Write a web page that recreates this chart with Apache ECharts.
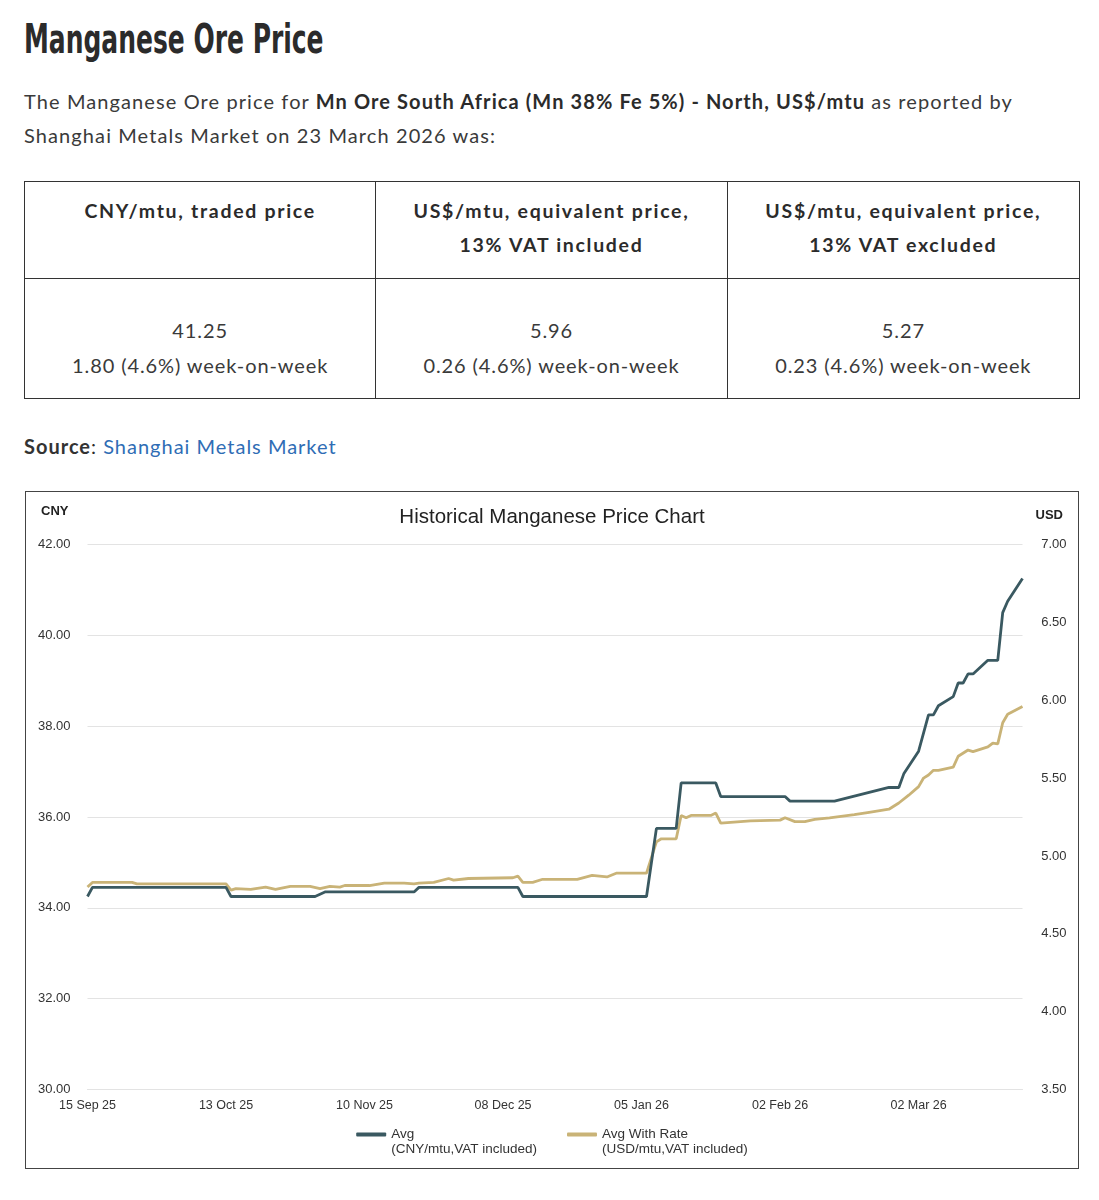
<!DOCTYPE html>
<html>
<head>
<meta charset="utf-8">
<script src="https://cdn.jsdelivr.net/npm/echarts@6/dist/echarts.min.js"></script>
<style>
  html,body{margin:0;padding:0;background:#fff;}
  body{font-family:Lato,'Open Sans',sans-serif;color:#3a3a3a;width:1099px;height:1200px;position:relative;overflow:hidden;}
  #title{position:absolute;left:24px;top:19px;font-family:'Liberation Sans Narrow','DejaVu Sans Condensed',sans-serif;font-weight:bold;font-size:40px;line-height:40px;color:#2b2b2b;transform:scaleX(0.694);transform-origin:left top;white-space:nowrap;}
  #intro{position:absolute;left:24px;top:84px;width:1075px;font-size:20px;line-height:34px;color:#3a3a3a;letter-spacing:1.1px;white-space:nowrap;}
  #intro b{color:#2b2b2b;}
  .tbl{position:absolute;left:24px;top:181px;width:1056px;height:218px;border:1.5px solid #333;box-sizing:border-box;display:grid;grid-template-columns:1fr 1fr 1fr;grid-template-rows:97px 1fr;}
  .tbl div{text-align:center;border-right:1.5px solid #333;box-sizing:border-box;}
  .tbl div.last{border-right:none;}
  .tbl .h{border-bottom:1.5px solid #333;font-weight:bold;font-size:19.5px;line-height:34px;padding-top:12px;color:#2b2b2b;letter-spacing:1.7px;}
  .tbl .b{font-size:20px;line-height:35px;padding-top:34px;color:#3a3a3a;letter-spacing:0.9px;}
  #source{position:absolute;left:24px;top:431px;font-size:20px;line-height:30px;color:#2b2b2b;letter-spacing:1px;}
  #source b{color:#333;}
  #source a{color:#2f6db5;text-decoration:none;}
  #box{position:absolute;left:25px;top:491px;width:1054px;height:678px;border:1.5px solid #444;box-sizing:border-box;}
  #chart{width:100%;height:100%;}
</style>
</head>
<body>
<div id="title">Manganese Ore Price</div>
<div id="intro">The Manganese Ore price for <b>Mn Ore South Africa (Mn 38% Fe 5%) - North, US$/mtu</b> as reported by<br>Shanghai Metals Market on 23 March 2026 was:</div>
<div class="tbl">
  <div class="h">CNY/mtu, traded price</div>
  <div class="h">US$/mtu, equivalent price,<br>13% VAT included</div>
  <div class="h last">US$/mtu, equivalent price,<br>13% VAT excluded</div>
  <div class="b">41.25<br>1.80 (4.6%) week-on-week</div>
  <div class="b">5.96<br>0.26 (4.6%) week-on-week</div>
  <div class="b last">5.27<br>0.23 (4.6%) week-on-week</div>
</div>
<div id="source"><b>Source</b>: <a href="#">Shanghai Metals Market</a></div>
<div id="box"><div id="chart"></div></div>
<script>
// ---- data ----
var startDate = '2025-09-15';
var dayCount = 190; // 15 Sep 25 .. 23 Mar 26, daily categories
var monthNames = ['Jan','Feb','Mar','Apr','May','Jun','Jul','Aug','Sep','Oct','Nov','Dec'];

var avgDates = ['15 Sep 25','16 Sep 25','13 Oct 25','14 Oct 25','31 Oct 25','02 Nov 25','20 Nov 25','21 Nov 25',
  '11 Dec 25','12 Dec 25','06 Jan 26','08 Jan 26','12 Jan 26','13 Jan 26','20 Jan 26','21 Jan 26',
  '03 Feb 26','04 Feb 26','13 Feb 26','24 Feb 26','26 Feb 26','27 Feb 26','02 Mar 26','04 Mar 26',
  '05 Mar 26','06 Mar 26','09 Mar 26','10 Mar 26','11 Mar 26','12 Mar 26','13 Mar 26','16 Mar 26',
  '18 Mar 26','19 Mar 26','20 Mar 26','23 Mar 26'];
var avgValues = [34.25,34.45,34.45,34.25,34.25,34.35,34.35,34.45,
  34.45,34.25,34.25,35.75,35.75,36.75,36.75,36.45,
  36.45,36.35,36.35,36.65,36.65,36.95,37.45,38.25,
  38.25,38.45,38.65,38.95,38.95,39.15,39.15,39.45,
  39.45,40.50,40.75,41.25];

var rateDates = ['15 Sep 25','16 Sep 25','24 Sep 25','25 Sep 25','13 Oct 25','14 Oct 25','15 Oct 25','18 Oct 25',
  '21 Oct 25','23 Oct 25','26 Oct 25','30 Oct 25','01 Nov 25','03 Nov 25','05 Nov 25','06 Nov 25',
  '11 Nov 25','14 Nov 25','18 Nov 25','20 Nov 25','21 Nov 25','24 Nov 25','27 Nov 25','28 Nov 25',
  '01 Dec 25','10 Dec 25','11 Dec 25','12 Dec 25','14 Dec 25','16 Dec 25','23 Dec 25','26 Dec 25',
  '29 Dec 25','31 Dec 25','06 Jan 26','08 Jan 26','09 Jan 26','12 Jan 26','13 Jan 26','14 Jan 26',
  '15 Jan 26','19 Jan 26','20 Jan 26','21 Jan 26','23 Jan 26','27 Jan 26','02 Feb 26','03 Feb 26',
  '05 Feb 26','07 Feb 26','09 Feb 26','12 Feb 26','17 Feb 26','20 Feb 26','24 Feb 26','26 Feb 26',
  '28 Feb 26','02 Mar 26','03 Mar 26','04 Mar 26','05 Mar 26','06 Mar 26','09 Mar 26','10 Mar 26',
  '12 Mar 26','13 Mar 26','16 Mar 26','17 Mar 26','18 Mar 26','19 Mar 26','20 Mar 26','23 Mar 26'];
var rateValues = [4.80,4.83,4.83,4.82,4.82,4.78,4.79,4.785,
  4.80,4.785,4.805,4.805,4.79,4.805,4.80,4.81,
  4.81,4.825,4.825,4.82,4.825,4.83,4.855,4.845,
  4.855,4.86,4.87,4.83,4.83,4.85,4.85,4.875,
  4.865,4.89,4.89,5.09,5.11,5.11,5.26,5.245,
  5.26,5.26,5.275,5.21,5.215,5.225,5.23,5.245,
  5.22,5.22,5.235,5.245,5.265,5.28,5.30,5.34,
  5.39,5.445,5.50,5.52,5.55,5.55,5.57,5.64,
  5.68,5.67,5.70,5.725,5.72,5.855,5.91,5.96];

var seriesNames = ['Avg','Avg With Rate'];
var seriesUnits = ['(CNY/mtu,VAT included)','(USD/mtu,VAT included)'];
var seriesColors = ['#3a5961','#c9b377'];

// ---- categories (daily) ----
function fmt(d){
  var dd = ('0' + d.getUTCDate()).slice(-2);
  return dd + ' ' + monthNames[d.getUTCMonth()] + ' ' + String(d.getUTCFullYear()).slice(-2);
}
var categories = [];
var t0 = Date.parse(startDate + 'T00:00:00Z');
for (var i = 0; i < dayCount; i++) categories.push(fmt(new Date(t0 + i * 86400000)));

function pairs(ds, vs){ return ds.map(function(d, i){ return [d, vs[i]]; }); }

var chart = echarts.init(document.getElementById('chart'), null, {renderer:'canvas'});
var fontFam = "'Liberation Sans', Arial, sans-serif";
chart.setOption({
  animation:false,
  backgroundColor:'#fff',
  textStyle:{fontFamily:fontFam},
  title:{text:'Historical Manganese Price Chart',left:'center',top:10,
    textStyle:{fontFamily:fontFam,fontSize:20.5,fontWeight:'normal',color:'#222'}},
  grid:{left:61.5,right:55.5,top:52.5,bottom:78.5,containLabel:false},
  legend:{
    top:615,left:'center',itemWidth:30,itemHeight:4,itemGap:30,icon:'roundRect',
    data:seriesNames,
    formatter:function(n){ return ' \n' + n + '\n' + seriesUnits[seriesNames.indexOf(n)]; },
    textStyle:{fontFamily:fontFam,fontSize:13.5,color:'#333',lineHeight:15}
  },
  xAxis:{
    type:'category',data:categories,boundaryGap:false,
    axisLine:{show:true,lineStyle:{color:'#e3e3e3'}},
    axisTick:{show:false},
    axisLabel:{interval:27,margin:10,fontSize:12.5,color:'#333',fontFamily:fontFam},
    splitLine:{show:false}
  },
  yAxis:[{
    type:'value',min:30,max:42,interval:2,position:'left',
    name:'CNY',nameLocation:'end',nameGap:27,
    nameTextStyle:{fontFamily:fontFam,fontSize:13,fontWeight:'bold',color:'#222',align:'right',padding:[0,19,0,0]},
    axisLine:{show:false},axisTick:{show:false},
    axisLabel:{margin:17,fontSize:13,color:'#333',fontFamily:fontFam,formatter:function(v){return v.toFixed(2);}},
    splitLine:{show:true,lineStyle:{color:'#e3e3e3',width:1}}
  },{
    type:'value',min:3.5,max:7,interval:0.5,position:'right',
    name:'USD',nameLocation:'end',nameGap:23,
    nameTextStyle:{fontFamily:fontFam,fontSize:13,fontWeight:'bold',color:'#222',align:'left',padding:[0,0,0,13]},
    axisLine:{show:false},axisTick:{show:false},
    axisLabel:{margin:44,align:'right',fontSize:13,color:'#333',fontFamily:fontFam,formatter:function(v){return v.toFixed(2);}},
    splitLine:{show:false}
  }],
  series:[{
    name:seriesNames[0],type:'line',yAxisIndex:0,showSymbol:false,symbol:'none',
    data:pairs(avgDates, avgValues),
    lineStyle:{color:seriesColors[0],width:2.8},itemStyle:{color:seriesColors[0]},z:3
  },{
    name:seriesNames[1],type:'line',yAxisIndex:1,showSymbol:false,symbol:'none',
    data:pairs(rateDates, rateValues),
    lineStyle:{color:seriesColors[1],width:2.8},itemStyle:{color:seriesColors[1]},z:2
  }]
});
</script>
</body>
</html>
